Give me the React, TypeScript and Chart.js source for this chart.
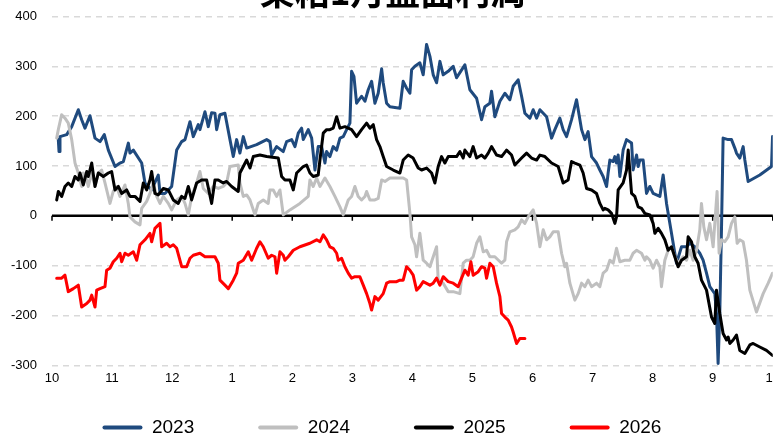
import React, { useEffect, useRef } from "react";
import { Chart, registerables } from "chart.js";

Chart.register(...registerables);

const TITLE = "菜粕1月盘面利润";
const SERIES_LABELS = ["2023", "2024", "2025", "2026"];
const SERIES_COLORS = ["#1f4a7e", "#bfbfbf", "#000000", "#ff0000"];
const MONTH_LABELS = ["10", "11", "12", "1", "2", "3", "4", "5", "6", "7", "8", "9", "10"];
const Y_MIN = -300;
const Y_MAX = 400;
const Y_STEP = 100;

// [month position since Oct 1, profit]
const S2023: number[][] = [
  [0.105,153],[0.117,129],[0.133,159],[0.245,163],[0.328,179],[0.438,213],[0.494,193],[0.549,176],[0.632,201],
  [0.716,156],[0.799,149],[0.871,163],[0.938,132],[1.049,99],[1.132,106],[1.188,109],[1.271,146],[1.298,126],
  [1.354,132],[1.493,106],[1.548,66],[1.659,52],[1.769,82],[1.798,45],[1.881,45],[1.992,59],[2.076,132],
  [2.159,149],[2.214,153],[2.297,189],[2.352,159],[2.435,183],[2.463,173],[2.547,209],[2.602,179],[2.658,207],
  [2.713,206],[2.741,173],[2.796,203],[2.879,206],[2.963,153],[3.018,119],[3.074,153],[3.129,126],[3.185,159],
  [3.241,136],[3.407,143],[3.574,153],[3.628,149],[3.657,122],[3.74,139],[3.85,129],[3.906,149],[3.99,153],
  [4.045,139],[4.1,166],[4.156,176],[4.183,153],[4.266,173],[4.323,156],[4.378,92],[4.432,139],[4.489,139],
  [4.544,106],[4.572,129],[4.627,119],[4.682,139],[4.739,132],[4.794,156],[4.849,159],[4.905,173],[4.96,186],
  [4.988,290],[5.027,280],[5.071,226],[5.154,240],[5.21,230],[5.265,253],[5.321,270],[5.376,226],[5.431,246],
  [5.488,295],[5.514,267],[5.571,226],[5.626,219],[5.792,216],[5.847,270],[5.904,256],[5.959,246],[5.987,293],
  [6.042,300],[6.125,307],[6.18,283],[6.236,344],[6.292,320],[6.347,283],[6.403,267],[6.458,310],[6.513,283],
  [6.596,290],[6.68,300],[6.736,277],[6.874,303],[6.957,253],[7.069,236],[7.152,193],[7.207,219],[7.29,226],
  [7.318,250],[7.373,199],[7.457,230],[7.54,246],[7.623,233],[7.678,260],[7.761,273],[7.818,240],[7.873,206],
  [7.956,196],[8.011,213],[8.068,196],[8.123,213],[8.234,199],[8.317,156],[8.372,173],[8.455,196],[8.51,173],
  [8.567,159],[8.65,193],[8.733,233],[8.817,173],[8.872,153],[8.926,169],[8.983,119],[9.066,106],[9.121,92],
  [9.176,79],[9.233,59],[9.259,86],[9.288,112],[9.343,109],[9.371,119],[9.399,106],[9.426,122],[9.454,79],
  [9.509,132],[9.565,153],[9.649,146],[9.675,92],[9.732,122],[9.759,99],[9.787,112],[9.842,112],[9.898,45],
  [9.953,59],[10.008,45],[10.12,39],[10.175,82],[10.231,25],[10.314,-35],[10.397,-95],[10.481,-62],[10.564,-62],
  [10.619,-55],[10.702,-62],[10.785,-75],[10.84,-89],[10.897,-115],[10.952,-142],[11.035,-156],[11.063,-196],
  [11.09,-296],[11.118,-196],[11.147,-22],[11.173,156],[11.257,153],[11.313,153],[11.368,136],[11.396,126],
  [11.451,116],[11.507,139],[11.535,112],[11.59,69],[11.784,82],[11.979,99],[11.996,159],
];

const S2024: number[][] = [
  [0.078,156],[0.105,173],[0.161,203],[0.216,196],[0.271,186],[0.328,153],[0.383,106],[0.438,86],[0.494,59],
  [0.521,86],[0.578,72],[0.604,59],[0.661,86],[0.716,59],[0.771,86],[0.827,92],[0.882,66],[0.965,25],[1.02,49],
  [1.077,59],[1.132,39],[1.215,62],[1.27,25],[1.298,-2],[1.381,-12],[1.465,-18],[1.493,15],[1.576,29],[1.631,45],
  [1.686,66],[1.743,39],[1.798,25],[1.853,39],[1.936,25],[1.992,12],[2.076,32],[2.159,39],[2.214,25],[2.269,2],
  [2.325,39],[2.408,66],[2.463,89],[2.519,55],[2.602,45],[2.685,59],[2.768,55],[2.851,59],[2.907,66],[2.963,99],
  [3.101,102],[3.129,66],[3.185,39],[3.241,42],[3.296,32],[3.379,2],[3.434,25],[3.517,32],[3.6,25],[3.628,52],
  [3.684,52],[3.74,39],[3.795,52],[3.85,2],[3.961,12],[4.128,25],[4.266,39],[4.294,72],[4.349,59],[4.406,76],
  [4.461,59],[4.544,76],[4.627,59],[4.71,39],[4.794,18],[4.849,2],[4.932,32],[4.988,39],[5.043,59],[5.098,39],
  [5.154,32],[5.21,39],[5.238,49],[5.293,32],[5.376,32],[5.431,35],[5.488,72],[5.543,69],[5.626,76],[5.847,76],
  [5.904,72],[5.959,5],[5.987,-42],[6.042,-58],[6.07,-82],[6.125,-35],[6.18,-89],[6.236,-95],[6.292,-102],
  [6.347,-82],[6.403,-62],[6.43,-129],[6.513,-135],[6.596,-152],[6.68,-152],[6.791,-156],[6.846,-95],[6.902,-89],
  [6.957,-89],[7.012,-82],[7.069,-55],[7.124,-42],[7.179,-72],[7.235,-69],[7.29,-82],[7.373,-82],[7.485,-95],
  [7.54,-89],[7.568,-52],[7.623,-32],[7.706,-28],[7.761,-22],[7.818,-8],[7.873,-15],[7.928,-2],[8.011,12],
  [8.068,-15],[8.123,-62],[8.178,-28],[8.234,-48],[8.289,-42],[8.344,-32],[8.427,-32],[8.484,-75],[8.538,-102],
  [8.567,-95],[8.622,-135],[8.705,-169],[8.76,-156],[8.817,-135],[8.872,-142],[8.926,-129],[8.983,-142],
  [9.066,-135],[9.121,-142],[9.176,-115],[9.233,-109],[9.288,-89],[9.343,-95],[9.399,-65],[9.454,-92],[9.537,-89],
  [9.621,-89],[9.675,-75],[9.732,-69],[9.815,-75],[9.87,-89],[9.898,-82],[9.953,-89],[10.008,-105],[10.065,-89],
  [10.12,-102],[10.147,-142],[10.203,-89],[10.258,-69],[10.314,-62],[10.369,-82],[10.424,-95],[10.508,-82],
  [10.564,-89],[10.619,-69],[10.674,-89],[10.731,-69],[10.785,-28],[10.813,25],[10.852,-22],[10.897,-48],
  [10.952,-15],[11.007,-62],[11.035,-15],[11.073,49],[11.107,-75],[11.147,-48],[11.202,-52],[11.257,-42],
  [11.313,-15],[11.368,-2],[11.407,-55],[11.451,-48],[11.507,-52],[11.562,-89],[11.618,-149],[11.729,-193],
  [11.84,-156],[11.924,-135],[11.996,-115],
];

const S2025: number[][] = [
  [0.078,32],[0.105,49],[0.161,39],[0.216,59],[0.271,66],[0.328,59],[0.383,79],[0.438,72],[0.466,86],[0.521,62],
  [0.578,89],[0.604,79],[0.661,106],[0.716,59],[0.771,86],[0.854,79],[0.938,86],[0.993,89],[1.049,52],[1.104,59],
  [1.16,45],[1.243,52],[1.298,39],[1.381,39],[1.465,29],[1.52,66],[1.576,52],[1.631,72],[1.659,89],[1.714,45],
  [1.769,42],[1.853,55],[1.936,52],[2.019,32],[2.102,25],[2.159,39],[2.214,35],[2.269,59],[2.325,32],[2.408,66],
  [2.491,72],[2.575,72],[2.658,25],[2.713,72],[2.768,72],[2.851,66],[2.907,69],[2.991,59],[3.101,49],[3.129,86],
  [3.185,99],[3.241,112],[3.296,96],[3.351,119],[3.462,122],[3.574,119],[3.767,116],[3.823,79],[3.878,72],
  [3.961,72],[4.017,52],[4.073,86],[4.183,99],[4.239,102],[4.294,86],[4.349,79],[4.432,82],[4.461,112],
  [4.516,166],[4.572,173],[4.627,173],[4.682,176],[4.739,199],[4.794,176],[4.877,179],[4.932,176],[4.988,173],
  [5.071,159],[5.154,173],[5.238,186],[5.293,176],[5.348,183],[5.404,153],[5.459,139],[5.514,119],[5.571,99],
  [5.681,92],[5.792,86],[5.847,112],[5.93,122],[6.013,116],[6.097,96],[6.153,92],[6.236,96],[6.32,86],[6.375,66],
  [6.43,99],[6.486,119],[6.541,106],[6.596,119],[6.736,119],[6.791,129],[6.846,116],[6.874,132],[6.957,119],
  [7.012,139],[7.069,116],[7.152,122],[7.207,116],[7.263,126],[7.318,139],[7.401,122],[7.485,119],[7.568,132],
  [7.651,122],[7.706,102],[7.818,116],[7.901,126],[7.984,116],[8.068,112],[8.123,122],[8.206,119],[8.317,106],
  [8.427,99],[8.51,66],[8.593,72],[8.65,109],[8.705,106],[8.788,102],[8.843,86],[8.9,55],[8.983,52],[9.066,45],
  [9.121,25],[9.176,12],[9.204,15],[9.259,12],[9.315,5],[9.371,-15],[9.399,-2],[9.426,52],[9.509,66],[9.565,92],
  [9.593,132],[9.649,45],[9.704,39],[9.759,18],[9.815,15],[9.87,5],[9.953,2],[10.008,-15],[10.037,-35],
  [10.092,-25],[10.147,-35],[10.203,-48],[10.258,-69],[10.314,-62],[10.369,-82],[10.424,-102],[10.481,-89],
  [10.564,-82],[10.591,-42],[10.647,-52],[10.702,-82],[10.757,-95],[10.813,-129],[10.897,-149],[10.98,-203],
  [11.035,-216],[11.063,-149],[11.118,-196],[11.173,-236],[11.23,-249],[11.257,-243],[11.285,-256],[11.34,-249],
  [11.396,-239],[11.451,-270],[11.535,-276],[11.618,-259],[11.673,-256],[11.784,-263],[11.895,-270],[11.996,-280],
];

const S2026: number[][] = [
  [0.078,-125],[0.161,-125],[0.216,-119],[0.271,-152],[0.355,-146],[0.438,-139],[0.494,-183],[0.578,-176],
  [0.632,-169],[0.661,-159],[0.716,-183],[0.744,-149],[0.799,-146],[0.882,-142],[0.91,-109],[0.965,-105],
  [1.02,-92],[1.077,-85],[1.132,-75],[1.16,-92],[1.215,-75],[1.27,-79],[1.354,-72],[1.41,-89],[1.465,-58],
  [1.548,-48],[1.631,-35],[1.659,-52],[1.714,-25],[1.798,-15],[1.826,-62],[1.909,-55],[1.964,-62],[2.019,-58],
  [2.076,-65],[2.159,-102],[2.242,-102],[2.297,-85],[2.352,-79],[2.463,-75],[2.547,-82],[2.713,-82],[2.768,-95],
  [2.796,-129],[2.879,-139],[2.935,-146],[3.018,-129],[3.074,-115],[3.101,-95],[3.185,-89],[3.268,-72],[3.324,-89],
  [3.407,-65],[3.462,-52],[3.517,-62],[3.6,-85],[3.657,-79],[3.712,-82],[3.74,-115],[3.795,-72],[3.85,-79],
  [3.878,-89],[3.933,-82],[4.017,-69],[4.128,-62],[4.294,-55],[4.406,-48],[4.461,-52],[4.516,-38],[4.572,-48],
  [4.627,-62],[4.682,-65],[4.739,-75],[4.766,-89],[4.822,-85],[4.877,-102],[4.932,-115],[4.988,-125],[5.043,-122],
  [5.126,-122],[5.182,-139],[5.238,-156],[5.293,-176],[5.321,-189],[5.376,-162],[5.431,-169],[5.514,-156],
  [5.571,-135],[5.626,-132],[5.737,-132],[5.792,-129],[5.847,-129],[5.904,-102],[5.959,-109],[6.013,-119],
  [6.07,-149],[6.125,-142],[6.18,-132],[6.292,-139],[6.347,-135],[6.403,-125],[6.458,-139],[6.513,-122],
  [6.596,-132],[6.68,-135],[6.763,-142],[6.819,-125],[6.874,-109],[6.929,-119],[6.974,-92],[7.012,-119],
  [7.096,-112],[7.152,-102],[7.207,-105],[7.235,-125],[7.29,-95],[7.346,-102],[7.401,-135],[7.457,-162],
  [7.485,-196],[7.54,-203],[7.595,-209],[7.651,-223],[7.678,-233],[7.735,-256],[7.79,-246],[7.873,-246],
];

const SERIES_DATA = [S2023, S2024, S2025, S2026];

const zeroAxisPlugin = {
  id: "zeroAxis",
  beforeDatasetsDraw(chart: any) {
    const { ctx, chartArea, scales } = chart;
    const x = scales.x;
    const y = scales.y;
    const y0 = y.getPixelForValue(0);
    ctx.save();
    ctx.strokeStyle = "#000";
    ctx.lineWidth = 2.5;
    ctx.beginPath();
    ctx.moveTo(chartArea.left, y0);
    ctx.lineTo(chartArea.right, y0);
    ctx.stroke();
    ctx.lineWidth = 1.5;
    ctx.beginPath();
    x.ticks.forEach((t: any) => {
      const px = x.getPixelForValue(t.value);
      ctx.moveTo(px, y0);
      ctx.lineTo(px, y0 + 5);
    });
    ctx.stroke();
    ctx.restore();
  },
};

export default function App() {
  const canvasRef = useRef<HTMLCanvasElement | null>(null);

  useEffect(() => {
    if (!canvasRef.current) return;
    const chart = new Chart(canvasRef.current, {
      type: "line",
      data: {
        datasets: SERIES_LABELS.map((label, i) => ({
          label,
          data: SERIES_DATA[i].map(([m, v]) => ({ x: m, y: v })),
          borderColor: SERIES_COLORS[i],
          backgroundColor: SERIES_COLORS[i],
          borderWidth: 3,
          pointRadius: 0,
          tension: 0,
          borderJoinStyle: "round",
          borderCapStyle: "round",
          order: SERIES_LABELS.length - i,
        })),
      },
      options: {
        animation: false,
        responsive: true,
        maintainAspectRatio: false,
        layout: { padding: 0 },
        plugins: {
          tooltip: { enabled: false },
          title: {
            display: true,
            text: TITLE,
            color: "#000",
            font: { family: "'Noto Sans CJK SC', sans-serif", size: 35, weight: "bold" },
            padding: { top: 0, bottom: 3.5 },
          },
          legend: {
            display: true,
            position: "bottom",
            align: "center",
            labels: {
              color: "#000",
              font: { family: "'Liberation Sans', Arial, sans-serif", size: 19 },
              boxWidth: 40,
              boxHeight: 4,
              padding: 27,
              generateLabels: (c: any) => {
                const n = c.data.datasets.length;
                return c.data.datasets.map((ds: any, i: number) => ({
                  text: ds.label + " ".repeat(i === n - 1 ? 4 : 7),
                  fillStyle: ds.borderColor,
                  strokeStyle: ds.borderColor,
                  lineWidth: 0,
                  hidden: false,
                  datasetIndex: i,
                  borderRadius: 2,
                  fontColor: "#000",
                }));
              },
            },
          },
        },
        scales: {
          x: {
            type: "linear",
            min: 0,
            max: MONTH_LABELS.length - 1,
            grid: { display: false, drawTicks: false },
            border: { display: false },
            ticks: {
              stepSize: 1,
              autoSkip: false,
              maxRotation: 0,
              padding: 5,
              color: "#000",
              font: { family: "'Liberation Sans', Arial, sans-serif", size: 13 },
              callback: (v: any) => MONTH_LABELS[Math.round(Number(v))] ?? "",
            },
          },
          y: {
            min: Y_MIN,
            max: Y_MAX,
            afterFit: (scale: any) => {
              scale.width = 52;
            },
            grid: {
              drawTicks: false,
              lineWidth: 1.5,
              color: (ctx: any) => (ctx.tick && ctx.tick.value === 0 ? "rgba(0,0,0,0)" : "#d9d9d9"),
            },
            border: { display: false, dash: [6, 5] },
            ticks: {
              stepSize: Y_STEP,
              padding: 15,
              color: "#000",
              font: { family: "'Liberation Sans', Arial, sans-serif", size: 13 },
            },
          },
        },
      },
      plugins: [zeroAxisPlugin],
    } as any);
    return () => chart.destroy();
  }, []);

  return (
    <div style={{ position: "fixed", left: 0, top: 0, width: 773, height: 439, overflow: "hidden", background: "#fff" }}>
      <div style={{ position: "absolute", left: 0, top: -29, width: 785, height: 476 }}>
        <canvas ref={canvasRef} />
      </div>
    </div>
  );
}
